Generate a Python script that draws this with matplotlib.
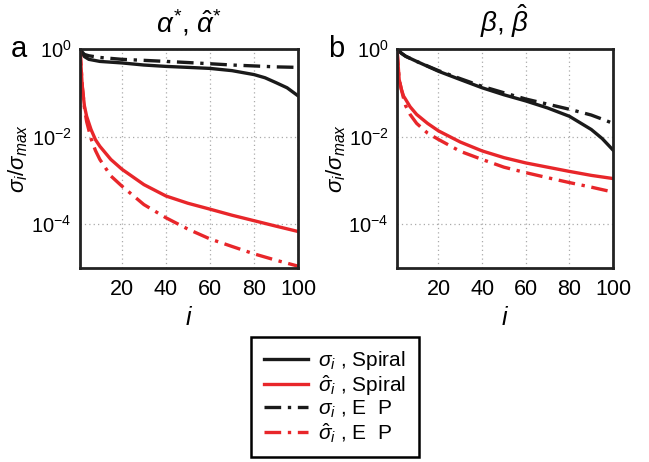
import numpy as np
import matplotlib.pyplot as plt

plt.rcParams['font.family'] = ['Liberation Sans', 'DejaVu Sans']
plt.rcParams['mathtext.fontset'] = 'custom'
plt.rcParams['mathtext.rm'] = 'Liberation Sans'
plt.rcParams['mathtext.it'] = 'Liberation Sans:italic'
plt.rcParams['mathtext.bf'] = 'Liberation Sans:bold'
plt.rcParams['axes.unicode_minus'] = False

# normalised singular values, sampled along the index i
# panel a: alpha*
a_idx = [1, 2, 3, 5, 10, 20, 30, 40, 50, 60, 70, 80, 85, 90, 95, 100]
a_spiral = [1.0, 0.78, 0.67, 0.58, 0.52, 0.48, 0.43, 0.40, 0.38, 0.36, 0.32, 0.26, 0.22, 0.17, 0.13, 0.085]
a_ep = [1.0, 0.85, 0.75, 0.70, 0.64, 0.58, 0.55, 0.52, 0.49, 0.46, 0.43, 0.41, 0.40, 0.39, 0.385, 0.38]

a_hat_idx = [1, 2, 3, 4, 6, 8, 10, 15, 20, 30, 40, 50, 60, 70, 80, 90, 100]
a_hat_spiral = [1.0, 0.14, 0.05, 0.029, 0.0145, 0.0085, 6e-3, 3e-3, 1.8e-3, 8e-4, 4.4e-4, 3e-4, 2.2e-4, 1.6e-4, 1.2e-4, 9e-5, 6.8e-5]
a_hat_ep = [1.0, 0.15, 0.045, 0.022, 9e-3, 4.8e-3, 3e-3, 1.26e-3, 7.4e-4, 2.8e-4, 1.4e-4, 7.7e-5, 4.6e-5, 3.1e-5, 2.1e-5, 1.5e-5, 1.1e-5]

# panel b: beta
b_idx = [1, 3, 5, 10, 20, 30, 40, 50, 60, 70, 80, 90, 95, 100]
b_spiral = [1.0, 0.8, 0.68, 0.52, 0.31, 0.2, 0.13, 0.09, 0.065, 0.045, 0.029, 0.0145, 0.009, 4.9e-3]
b_ep = [1.0, 0.8, 0.68, 0.52, 0.32, 0.21, 0.14, 0.10, 0.072, 0.055, 0.042, 0.031, 0.025, 0.02]

b_hat_idx = [1, 2, 3, 4, 5, 7, 10, 15, 20, 30, 40, 50, 60, 70, 80, 90, 100]
b_hat_spiral = [1.0, 0.2, 0.12, 0.084, 0.07, 0.048, 0.032, 0.02, 0.0135, 7.5e-3, 4.7e-3, 3.3e-3, 2.5e-3, 2e-3, 1.6e-3, 1.3e-3, 1.1e-3]
b_hat_ep = [1.0, 0.2, 0.12, 0.075, 0.05, 0.032, 0.02, 0.012, 8.6e-3, 4.6e-3, 3e-3, 2e-3, 1.5e-3, 1.15e-3, 8.9e-4, 7e-4, 5.4e-4]

xticks = [20, 40, 60, 80, 100]
yticks = [1, 1e-2, 1e-4]

red = '#e8262a'
dashdot = (5, 2, 1, 2)

fig = plt.figure(figsize=(6.49, 4.62), dpi=100)
ax_a = fig.add_axes([0.1233, 0.42, 0.336, 0.474])
ax_b = fig.add_axes([0.6117, 0.42, 0.333, 0.474])

panels = [
    (ax_a, 'a', r'$\alpha^{*}$, $\hat{\alpha}^{*}$',
     a_idx, a_spiral, a_ep, a_hat_idx, a_hat_spiral, a_hat_ep),
    (ax_b, 'b', r'$\beta$, $\hat{\beta}$',
     b_idx, b_spiral, b_ep, b_hat_idx, b_hat_spiral, b_hat_ep),
]

for ax, tag, title, idx, sp, ep, hidx, hsp, hep in panels:
    l1, = ax.plot(idx, sp, color='#1a1a1a', lw=2.4)
    l2, = ax.plot(hidx, hsp, color=red, lw=2.4)
    l3, = ax.plot(idx, ep, color='#1a1a1a', lw=2.4, dashes=dashdot)
    l4, = ax.plot(hidx, hep, color=red, lw=2.4, dashes=dashdot)
    ax.set_yscale('log')
    ax.set_xlim(1, 100)
    ax.set_ylim(1e-5, 1)
    ax.set_xticks(xticks)
    ax.set_yticks(yticks)
    ax.minorticks_off()
    ax.tick_params(length=0)
    ax.tick_params(axis='x', pad=8, labelsize=15.5)
    ax.tick_params(axis='y', pad=6, labelsize=14.5)
    ax.grid(True, color='#aaaaaa', ls=(0, (1, 2.5)), lw=0.9)
    for s in ax.spines.values():
        s.set_linewidth(2)
        s.set_color('#222222')
    ax.set_xlabel('$i$', fontsize=18, labelpad=4)
    ax.set_ylabel(r'$\sigma_i/\sigma_{max}$', fontsize=16)
    ax.yaxis.set_label_coords(-0.228, 0.5)
    ax.set_title(title, fontsize=20, pad=12)
    ax.text(-0.28, 1.0, tag, transform=ax.transAxes, fontsize=21,
            ha='center', va='center')

fig.legend([l1, l2, l3, l4],
           [r'$\sigma_i$ , Spiral', r'$\hat{\sigma}_i$ , Spiral',
            r'$\sigma_i$ , E  P', r'$\hat{\sigma}_i$ , E  P'],
           loc='center', bbox_to_anchor=(335 / 649, 1 - 397 / 462),
           fontsize=15, frameon=True, fancybox=False, edgecolor='black',
           framealpha=1, handlelength=2.1, labelspacing=0.05,
           borderpad=0.6, handletextpad=0.5, borderaxespad=0)
fig.legends[0].get_frame().set_linewidth(1.8)

fig.savefig('out.png', dpi=100)
